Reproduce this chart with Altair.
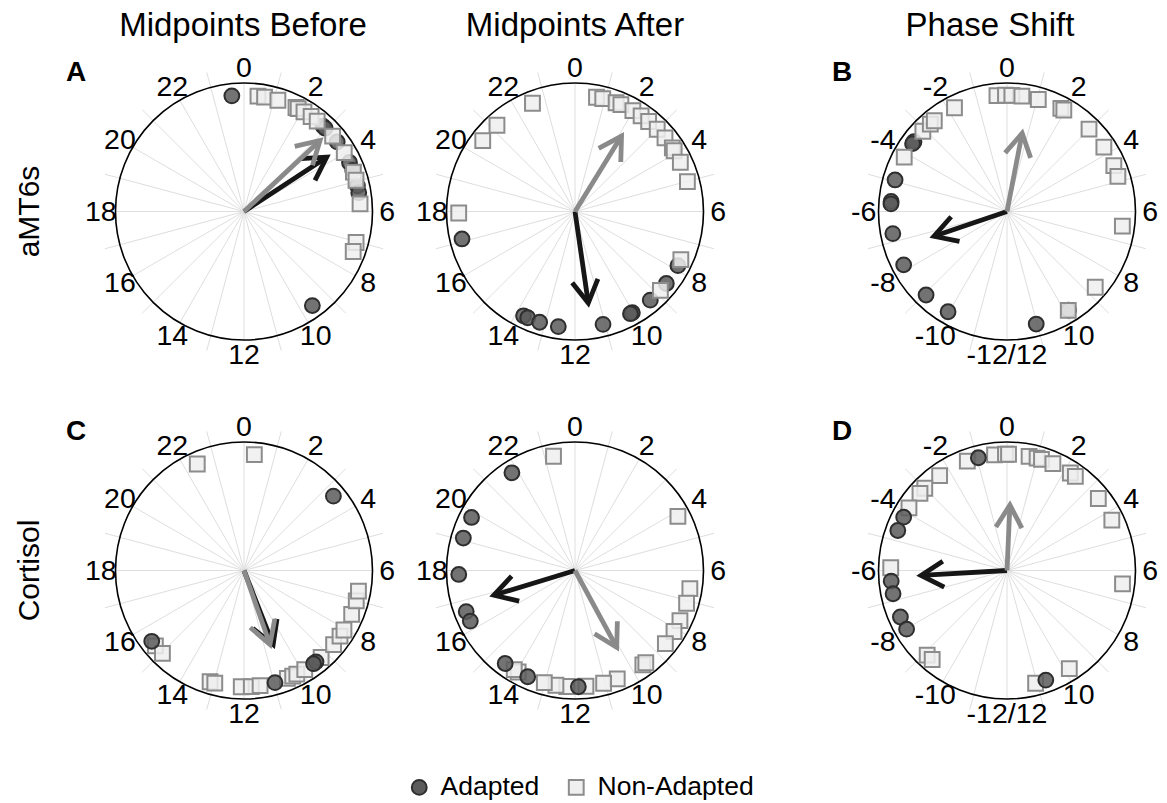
import altair as alt
import pandas as pd

# ---------------- data ----------------
GROUPS = ["Adapted", "Non-Adapted"]
COLUMN_TITLES = ["Midpoints Before", "Midpoints After", "Phase Shift"]
ROW_TITLES = ["aMT6s", "Cortisol"]
PANEL_LETTERS = ["A", "B", "C", "D"]
LETTER_CELLS = [(0, 0), (0, 2), (1, 0), (1, 2)]
TICK_HOURS = [0, 2, 4, 6, 8, 10, 12, 14, 16, 18, 20, 22]
CLOCK_LABELS = ["0", "2", "4", "6", "8", "10", "12", "14", "16", "18", "20", "22"]
PHASE_LABELS = ["0", "2", "4", "6", "8", "10", "-12/12", "-10", "-8", "-6", "-4", "-2"]
SPOKE_HOURS = list(range(24))

# individual values (clock hour, or phase shift in hours)
AMT_BEFORE_ADAPTED = [23.6, 2.85, 2.95, 3.55, 4.34, 4.62, 5.15, 5.38, 9.6]
AMT_BEFORE_NON = [0.46, 0.68, 1.13, 1.77, 1.85, 2.07, 2.35, 2.6, 3.31, 3.97,
                  4.68, 4.96, 5.75, 7.03, 7.34]
AMT_AFTER_ADAPTED = [17.09, 13.75, 13.6, 13.18, 12.55, 11.07, 10.03, 10.1, 9.31, 8.55, 7.85]
AMT_AFTER_NON = [22.57, 21.19, 20.5, 17.95, 0.71, 0.92, 1.38, 1.55, 1.99, 2.31, 2.62,
                 3.0, 3.38, 3.79, 3.9, 4.33, 5.01, 7.63, 8.85]
AMT_SHIFT_ADAPTED = [-3.54, -3.62, -4.95, -5.67, -5.75, -6.73, -7.82, -9.06, -9.97, 9.87, 11.03]
AMT_SHIFT_NON = [-4.14, -3.09, -2.75, -2.58, -1.79, -0.33, -0.05, 0.16, 0.49, 1.04,
                 1.84, 1.95, 2.99, 3.76, 4.45, 4.83, 6.48, 8.71, 9.88]
COR_BEFORE_ADAPTED = [3.35, 15.5, 10.97, 9.45, 9.55]
COR_BEFORE_NON = [0.34, 22.42, 15.31, 14.97, 13.13, 12.97, 12.09, 11.76, 11.47, 10.54,
                  10.35, 10.2, 9.9, 9.23, 8.64, 8.29, 8.05, 7.48, 7.01, 6.68]
COR_AFTER_ADAPTED = [21.81, 19.81, 19.08, 17.87, 16.62, 16.28, 14.46, 13.6, 11.89]
COR_AFTER_NON = [23.29, 4.15, 6.6, 7.09, 7.7, 8.11, 8.6, 9.62, 9.5, 10.58, 11.05,
                 11.64, 12.27, 12.63, 13.02, 13.95, 14.1]
COR_SHIFT_ADAPTED = [-0.95, -4.18, -4.66, -6.35, -6.77, -7.57, -8.02, 10.7]
COR_SHIFT_NON = [-1.33, -0.41, -0.05, 0.05, 0.73, 1.0, 1.15, 1.55, 2.2, 2.4, 3.45,
                 4.29, 6.44, 9.84, 11.05, -2.36, -3.0, -3.23, -3.83, -5.91, -9.11, -9.33]

# mean vectors (direction in hours, resultant length) per panel, row-major order
ARROW_ANGLE_ADAPTED = [3.78, 11.45, -7.25, 10.57, 16.87, -6.22]
ARROW_LEN_ADAPTED = [0.77, 0.72, 0.60, 0.62, 0.66, 0.67]
ARROW_ANGLE_NON = [3.13, 2.11, 0.73, 10.71, 10.10, 0.17]
ARROW_LEN_NON = [0.81, 0.69, 0.62, 0.61, 0.68, 0.51]

PANEL_VALUES = [
    (AMT_BEFORE_ADAPTED, AMT_BEFORE_NON), (AMT_AFTER_ADAPTED, AMT_AFTER_NON),
    (AMT_SHIFT_ADAPTED, AMT_SHIFT_NON), (COR_BEFORE_ADAPTED, COR_BEFORE_NON),
    (COR_AFTER_ADAPTED, COR_AFTER_NON), (COR_SHIFT_ADAPTED, COR_SHIFT_NON),
]

# ---------------- layout ----------------
W, H = 1167, 803
R = 128.5
COL_CX = [244, 575, 1007]
ROW_CY = [211.5, 570.5]
FONT = "Liberation Sans"
PANELS = [(r, c) for r in range(2) for c in range(3)]

pts_rows, spoke_rows, tick_rows, arrow_rows, centre_rows = [], [], [], [], []
for i, (r, c) in enumerate(PANELS):
    cx, cy = COL_CX[c], ROW_CY[r]
    centre_rows.append({"cx": cx, "cy": cy})
    adapted, non = PANEL_VALUES[i]
    order = [("Adapted", adapted), ("Non-Adapted", non)]
    if r == 1:
        order = order[::-1]
    for g, vals in order:
        for v in vals:
            pts_rows.append({"cx": cx, "cy": cy, "group": g, "value": v})
    for h in SPOKE_HOURS:
        spoke_rows.append({"cx": cx, "cy": cy, "hour": h})
    labels = PHASE_LABELS if c == 2 else CLOCK_LABELS
    for h, lab in zip(TICK_HOURS, labels):
        tick_rows.append({"cx": cx, "cy": cy, "hour": h, "label": lab})
    arrow_rows.append({"key": f"{i}a", "cx": cx, "cy": cy, "group": "Adapted",
                       "value": ARROW_ANGLE_ADAPTED[i], "r": ARROW_LEN_ADAPTED[i]})
    arrow_rows.append({"key": f"{i}n", "cx": cx, "cy": cy, "group": "Non-Adapted",
                       "value": ARROW_ANGLE_NON[i], "r": ARROW_LEN_NON[i]})

pts = pd.DataFrame(pts_rows)
spokes = pd.DataFrame(spoke_rows)
ticks = pd.DataFrame(tick_rows)
arrows = pd.DataFrame(arrow_rows)
centres = pd.DataFrame(centre_rows)

XS = alt.Scale(domain=[0, W], nice=False, zero=False)
YS = alt.Scale(domain=[0, H], nice=False, zero=False, reverse=True)


def X(f):
    return alt.X(f, type="quantitative", scale=XS, axis=None)


def Y(f):
    return alt.Y(f, type="quantitative", scale=YS, axis=None)


spoke_layer = alt.Chart(spokes).transform_calculate(
    L=f"datum.hour % 2 == 1 ? {R * 1.12} : {R}",
).transform_calculate(
    x2="datum.cx + datum.L * sin(datum.hour * PI / 12)",
    y2="datum.cy - datum.L * cos(datum.hour * PI / 12)",
).mark_rule(color="#dedede", strokeWidth=1).encode(
    x=X("cx"), y=Y("cy"), x2="x2:Q", y2="y2:Q"
)

circle_layer = alt.Chart(centres).mark_point(
    shape="circle", size=(2 * R) ** 2, filled=False, color="black",
    strokeWidth=1.6, opacity=1
).encode(x=X("cx"), y=Y("cy"))

legend = alt.Legend(
    title=None, orient="none", legendX=406, legendY=774, direction="horizontal",
    labelFontSize=26.5, labelFont=FONT, labelColor="black", symbolSize=220,
    symbolStrokeWidth=2, labelOffset=8, columnPadding=23, padding=0,
)

point_layer = alt.Chart(pts).transform_calculate(
    x=f"datum.cx + {R * 0.905} * sin(datum.value * PI / 12)",
    y=f"datum.cy - {R * 0.905} * cos(datum.value * PI / 12)",
).mark_point(filled=True, size=220, strokeWidth=2, opacity=1, fillOpacity=0.85).encode(
    x=X("x"), y=Y("y"),
    shape=alt.Shape("group:N", scale=alt.Scale(domain=GROUPS, range=["circle", "square"]), legend=legend),
    fill=alt.Fill("group:N", scale=alt.Scale(domain=GROUPS, range=["#5b5b5b", "#efefef"]), legend=legend),
    stroke=alt.Stroke("group:N", scale=alt.Scale(domain=GROUPS, range=["#2e2e2e", "#8c8c8c"]), legend=legend),
)

HL = 26  # arrow head arm length in px


def arrow_layers(group, color):
    base = alt.Chart(arrows).transform_filter(f"datum.group == '{group}'").transform_calculate(
        a="datum.value * PI / 12",
    ).transform_calculate(
        tx=f"datum.cx + datum.r * {R} * sin(datum.a)",
        ty=f"datum.cy - datum.r * {R} * cos(datum.a)",
    )
    shaft = base.mark_rule(color=color, strokeWidth=4.8).encode(
        x=X("cx"), y=Y("cy"), x2="tx:Q", y2="ty:Q"
    )
    head = base.transform_calculate(parts="[-1, 0, 1]").transform_flatten(["parts"]).transform_calculate(
        hx=f"datum.parts == 0 ? datum.tx : datum.tx - {HL} * sin(datum.a + datum.parts * PI / 6)",
        hy=f"datum.parts == 0 ? datum.ty : datum.ty + {HL} * cos(datum.a + datum.parts * PI / 6)",
    ).mark_line(color=color, strokeWidth=4.8, strokeJoin="miter", strokeCap="butt").encode(
        x=X("hx"), y=Y("hy"), order="parts:Q", detail="key:N"
    )
    return [shaft, head]


tick_layer = alt.Chart(ticks).transform_calculate(
    x=f"datum.cx + {R * 1.115} * sin(datum.hour * PI / 12)",
    y=f"datum.cy - {R * 1.115} * cos(datum.hour * PI / 12)",
).mark_text(font=FONT, fontSize=28.5, color="black", align="center", baseline="middle").encode(
    x=X("x"), y=Y("y"), text="label:N"
)

col_title_df = pd.DataFrame({"x": [243, 575, 990], "y": [26, 26, 26], "t": COLUMN_TITLES})
col_titles = alt.Chart(col_title_df).mark_text(
    font=FONT, fontSize=33, color="black", align="center", baseline="middle"
).encode(x=X("x"), y=Y("y"), text="t:N")

row_title_df = pd.DataFrame({"x": [30, 30], "y": ROW_CY, "t": ROW_TITLES})
row_titles = alt.Chart(row_title_df).mark_text(
    font=FONT, fontSize=30, color="black", align="center", baseline="middle", angle=270
).encode(x=X("x"), y=Y("y"), text="t:N")

letter_df = pd.DataFrame({
    "x": [COL_CX[c] - 168 if c == 0 else COL_CX[c] - 165 for (_, c) in LETTER_CELLS],
    "y": [ROW_CY[r] - 139 for (r, _) in LETTER_CELLS],
    "t": PANEL_LETTERS,
})
letters = alt.Chart(letter_df).mark_text(
    font=FONT, fontSize=28, fontWeight="bold", color="black", align="center", baseline="middle"
).encode(x=X("x"), y=Y("y"), text="t:N")

layers = [spoke_layer, circle_layer, point_layer]
layers += arrow_layers("Adapted", "#161616")
layers += arrow_layers("Non-Adapted", "#8a8a8a")
layers += [tick_layer, col_titles, row_titles, letters]

chart = alt.layer(*layers).properties(
    width=W, height=H, padding=0, autosize=alt.AutoSizeParams(type="none")
).configure_view(stroke=None)

chart.save("out.html", embed_options={"renderer": "svg", "actions": False})
